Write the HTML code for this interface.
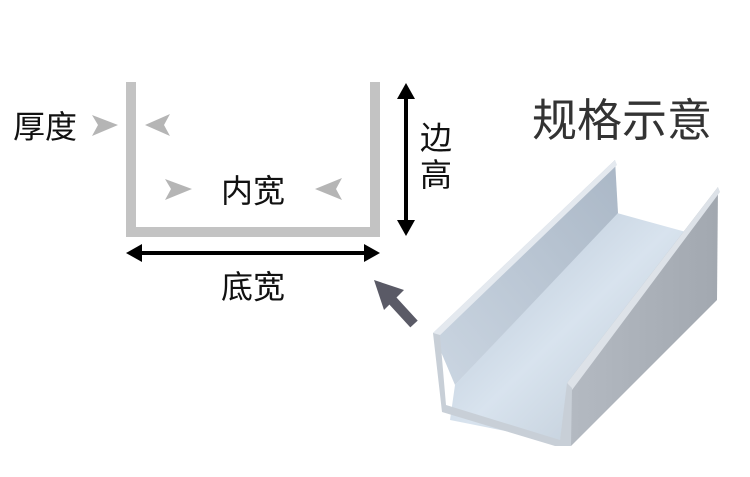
<!DOCTYPE html>
<html><head><meta charset="utf-8"><style>
body{margin:0;width:750px;height:477px;background:#fff;overflow:hidden;position:relative;font-family:"Liberation Sans","Noto Sans CJK SC",sans-serif;color:#111}
.t{position:absolute;white-space:nowrap}
</style></head><body>
<svg width="750" height="477" style="position:absolute;left:0;top:0">
<defs>
<linearGradient id="fl" x1="0" y1="0" x2="1" y2="1"><stop offset="0" stop-color="#b4c2d2"/><stop offset="0.5" stop-color="#d8e3ee"/><stop offset="1" stop-color="#b8c4d0"/></linearGradient>
<linearGradient id="lw" x1="0" y1="1" x2="1" y2="0"><stop offset="0" stop-color="#cbd6e2"/><stop offset="1" stop-color="#aab7c6"/></linearGradient>
<linearGradient id="rw" x1="0" y1="0" x2="1" y2="0"><stop offset="0" stop-color="#b4bac2"/><stop offset="1" stop-color="#a2a8b0"/></linearGradient>
</defs>
<rect x="126" y="82" width="10" height="155" fill="#c3c3c3"/>
<rect x="370" y="82" width="10" height="155" fill="#c3c3c3"/>
<rect x="126" y="227" width="254" height="10" fill="#c3c3c3"/>
<polygon points="92,115 118,125 92,136 98,125" fill="#b5b5b5"/>
<polygon points="170,114 145,125 170,136 164,125" fill="#b5b5b5"/>
<polygon points="165,179 192,189 165,200 171,189" fill="#b5b5b5"/>
<polygon points="342,178 315,189 342,200 336,189" fill="#b5b5b5"/>
<line x1="138" y1="253" x2="368" y2="253" stroke="#000" stroke-width="4"/>
<polygon points="126,253 142,244 142,262" fill="#000"/>
<polygon points="380,253 364,244 364,262" fill="#000"/>
<line x1="406" y1="96" x2="406" y2="224" stroke="#000" stroke-width="4"/>
<polygon points="406,83 397,99 415,99" fill="#000"/>
<polygon points="406,236 397,220 415,220" fill="#000"/>
<line x1="414" y1="324" x2="392" y2="300" stroke="#5a5a66" stroke-width="10"/>
<polygon points="374,280 404,290 384,310" fill="#5a5a66"/>
<polygon points="455,385 617,213 686,232 567,386 560,442 450,420" fill="url(#fl)"/>
<polygon points="433,333 615,160 618,213 455,385" fill="url(#lw)"/>
<polygon points="433,333 615,160 617,165 437,338" fill="#e4e9ef"/>
<polygon points="567,383 718,187 717,300 571,446" fill="url(#rw)"/>
<polygon points="567,383 718,187 720,192 572,390" fill="#dde2e8"/>
<polygon points="433,333 440,335 446,405 560,440 567,383 572,388 571,446 555,446 442,412" fill="#c8cfd7"/>
</svg>
<div class="t" style="left:13px;top:102px;font-size:32px">厚度</div>
<div class="t" style="left:221px;top:166px;font-size:32px">内宽</div>
<div class="t" style="left:221px;top:262px;font-size:32px">底宽</div>
<div class="t" style="left:420px;top:120px;font-size:32px;line-height:37px">边<br>高</div>
<div class="t" style="left:532px;top:84px;font-size:45px;color:#333">规格示意</div>
</body></html>
